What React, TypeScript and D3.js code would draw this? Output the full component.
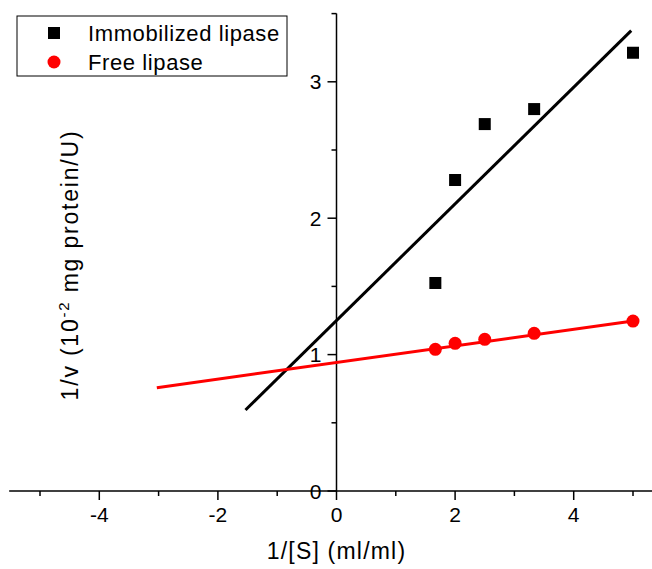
import React from "react";
import * as d3 from "d3";

const invS = [1.667, 2, 2.5, 3.333, 5];
const immobilized = [1.525, 2.28, 2.69, 2.8, 3.213];
const free = [1.039, 1.083, 1.112, 1.156, 1.246];
const immobFit = { slope: 0.4275, intercept: 1.25, x0: -1.535, x1: 4.97 };
const freeFit = { slope: 0.0609, intercept: 0.942, x0: -3.03, x1: 5 };
const xMajor = [-4, -2, 0, 2, 4];
const xMinor = [-5, -3, -1, 1, 3, 5];
const yMajor = [0, 1, 2, 3];
const yMinor = [0.5, 1.5, 2.5, 3.5];
const legendLabels = ["Immobilized lipase", "Free lipase"];

const FONT = "'Liberation Sans', Arial, sans-serif";

export default function App() {
  const x = d3.scaleLinear().domain([-5, 5]).range([40, 633]);
  const y = d3.scaleLinear().domain([0, 3.5]).range([491, 13.6]);
  const fitPath = (f: typeof immobFit) =>
    d3
      .line<number>()
      .x((d) => x(d))
      .y((d) => y(f.slope * d + f.intercept))([f.x0, f.x1]);
  const x0 = x(0);
  const y0 = y(0);
  return (
    <svg
      width={652}
      height={569}
      style={{ position: "fixed", left: 0, top: 0, background: "#fff" }}
      fontFamily={FONT}
    >
      <rect width={652} height={569} fill="#fff" />
      {/* x axis */}
      <line x1={x(-5.52)} x2={652} y1={y0} y2={y0} stroke="#000" strokeWidth={1.5} />
      {xMajor.map((t) => (
        <line key={"xm" + t} x1={x(t)} x2={x(t)} y1={y0} y2={y0 + 9} stroke="#000" strokeWidth={1.5} />
      ))}
      {xMinor.map((t) => (
        <line key={"xn" + t} x1={x(t)} x2={x(t)} y1={y0} y2={y0 + 5} stroke="#000" strokeWidth={1.5} />
      ))}
      {xMajor.map((t) => (
        <text key={"xl" + t} x={x(t)} y={522} fontSize={21} textAnchor="middle">
          {t < 0 ? "-" + Math.abs(t) : t}
        </text>
      ))}
      {/* y axis */}
      <line x1={x0} x2={x0} y1={y(3.5)} y2={y0} stroke="#000" strokeWidth={1.5} />
      {yMajor.map((t) => (
        <line key={"ym" + t} x1={x0 - 9} x2={x0} y1={y(t)} y2={y(t)} stroke="#000" strokeWidth={1.5} />
      ))}
      {yMinor.map((t) => (
        <line key={"yn" + t} x1={x0 - 5} x2={x0} y1={y(t)} y2={y(t)} stroke="#000" strokeWidth={1.5} />
      ))}
      {yMajor.map((t) => (
        <text key={"yl" + t} x={x0 - 15} y={y(t) + 7.5} fontSize={21} textAnchor="end">
          {t}
        </text>
      ))}
      {/* axis titles */}
      <text x={x0} y={559} fontSize={23} textAnchor="middle" letterSpacing={1.2}>
        1/[S] (ml/ml)
      </text>
      <text
        transform={`translate(78, 265) rotate(-90)`}
        fontSize={23}
        textAnchor="middle"
        letterSpacing={1.8}
      >
        1/v (10
        <tspan fontSize={15} dy={-9}>
          -2
        </tspan>
        <tspan dy={9}> mg protein/U)</tspan>
      </text>
      {/* fit lines */}
      <path d={fitPath(immobFit) ?? ""} stroke="#000" strokeWidth={3} fill="none" />
      <path d={fitPath(freeFit) ?? ""} stroke="#f00" strokeWidth={3} fill="none" />
      {/* points */}
      {invS.map((s, i) => (
        <rect key={"sq" + i} x={x(s) - 6} y={y(immobilized[i]) - 6} width={12} height={12} fill="#000" />
      ))}
      {invS.map((s, i) => (
        <circle key={"ci" + i} cx={x(s)} cy={y(free[i])} r={6.5} fill="#f00" />
      ))}
      {/* legend */}
      <rect x={17} y={16} width={270} height={60} fill="#fff" stroke="#000" strokeWidth={1} />
      <rect x={48} y={27} width={12} height={12} fill="#000" />
      <circle cx={54} cy={62} r={6.5} fill="#f00" />
      <text x={88} y={41} fontSize={22} letterSpacing={0.6}>
        {legendLabels[0]}
      </text>
      <text x={88} y={70} fontSize={22} letterSpacing={0.6}>
        {legendLabels[1]}
      </text>
    </svg>
  );
}
